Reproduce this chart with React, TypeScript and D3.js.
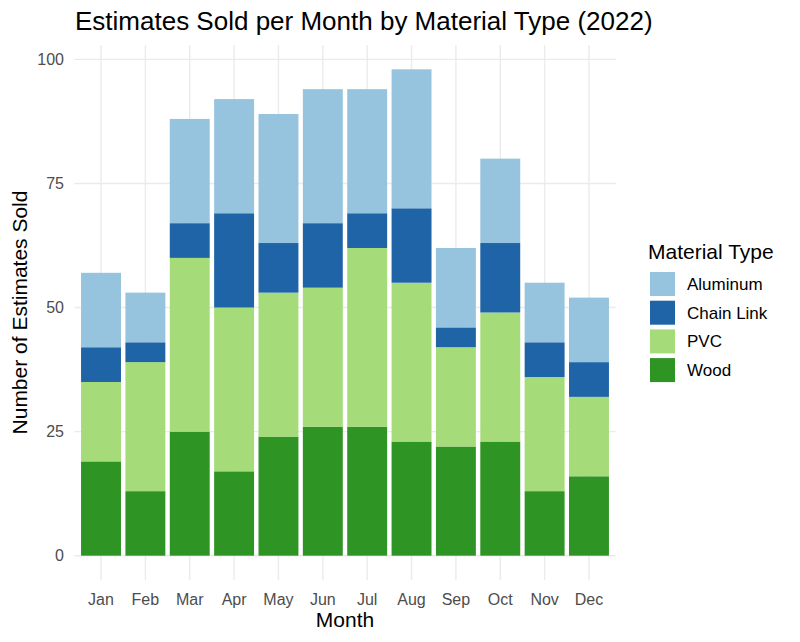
import React from 'react';
import * as d3 from 'd3';

const months = ['Jan', 'Feb', 'Mar', 'Apr', 'May', 'Jun', 'Jul', 'Aug', 'Sep', 'Oct', 'Nov', 'Dec'];
const wood = [19, 13, 25, 17, 24, 26, 26, 23, 22, 23, 13, 16];
const pvc = [16, 26, 35, 33, 29, 28, 36, 32, 20, 26, 23, 16];
const chainLink = [7, 4, 7, 19, 10, 13, 7, 15, 4, 14, 7, 7];
const aluminum = [15, 10, 21, 23, 26, 27, 25, 28, 16, 17, 12, 13];
const yTicks = [0, 25, 50, 75, 100];

// stacking order bottom -> top
const materials = ['Wood', 'PVC', 'Chain Link', 'Aluminum'];
const legendOrder = ['Aluminum', 'Chain Link', 'PVC', 'Wood'];
const colors: Record<string, string> = {
  'Aluminum': '#96c3dd',
  'Chain Link': '#1f64a7',
  'PVC': '#a5dc79',
  'Wood': '#2e9423',
};

const FONT = '"Liberation Sans", Arial, Helvetica, sans-serif';

export default function App() {
  const width = 800;
  const height = 642;
  const panel = { left: 74.4, right: 615.6, top: 45, bottom: 580 };

  const rows = months.map((m, i) => ({
    month: m,
    'Wood': wood[i],
    'PVC': pvc[i],
    'Chain Link': chainLink[i],
    'Aluminum': aluminum[i],
  }));
  const series = d3.stack<any>().keys(materials)(rows);

  // ggplot-style discrete axis: 0.6 step expansion each side, bar width 0.9
  const x = d3.scalePoint<string>().domain(months).range([panel.left, panel.right]).padding(0.6);
  const barW = x.step() * 0.9;

  const y = d3.scaleLinear().domain([-4.9, 102.9]).range([panel.bottom, panel.top]);

  return (
    <div style={{ position: 'absolute', left: 0, top: 0 }}>
      <svg width={width} height={height} style={{ display: 'block', background: '#fff' }} fontFamily={FONT}>
        {/* grid */}
        {yTicks.map(t => (
          <line key={'gy' + t} x1={panel.left} x2={panel.right} y1={y(t)} y2={y(t)} stroke="#ebebeb" strokeWidth={1.4} />
        ))}
        {months.map(m => (
          <line key={'gx' + m} x1={x(m)} x2={x(m)} y1={panel.top} y2={panel.bottom} stroke="#ebebeb" strokeWidth={1.4} />
        ))}
        {/* bars */}
        {series.map(s => (
          <g key={s.key} fill={colors[s.key]}>
            {s.map((d, i) => (
              <rect
                key={i}
                x={(x(months[i]) as number) - barW / 2}
                width={barW}
                y={y(d[1])}
                height={y(d[0]) - y(d[1])}
              />
            ))}
          </g>
        ))}
        {/* y ticks */}
        {yTicks.map(t => (
          <text key={'yt' + t} x={64} y={y(t)} dy="0.35em" textAnchor="end" fontSize={16} fill="#4d4d4d">{t}</text>
        ))}
        {/* x ticks */}
        {months.map(m => (
          <text key={'xt' + m} x={x(m)} y={605} textAnchor="middle" fontSize={16} fill="#4d4d4d">{m}</text>
        ))}
        {/* axis titles */}
        <text x={(panel.left + panel.right) / 2} y={627} textAnchor="middle" fontSize={21} fill="#000">Month</text>
        <text transform={`translate(27,${(panel.top + panel.bottom) / 2}) rotate(-90)`} textAnchor="middle" fontSize={21} fill="#000">Number of Estimates Sold</text>
        {/* title */}
        <text x={75} y={30} fontSize={26} fill="#000">Estimates Sold per Month by Material Type (2022)</text>
        {/* legend */}
        <text x={648} y={259} fontSize={21} fill="#000">Material Type</text>
        {legendOrder.map((k, i) => (
          <g key={'lg' + k} transform={`translate(650,${272 + i * 28.7})`}>
            <rect width={25} height={24} fill={colors[k]} />
            <text x={37} y={12} dy="0.35em" fontSize={17} fill="#000">{k}</text>
          </g>
        ))}
      </svg>
    </div>
  );
}
